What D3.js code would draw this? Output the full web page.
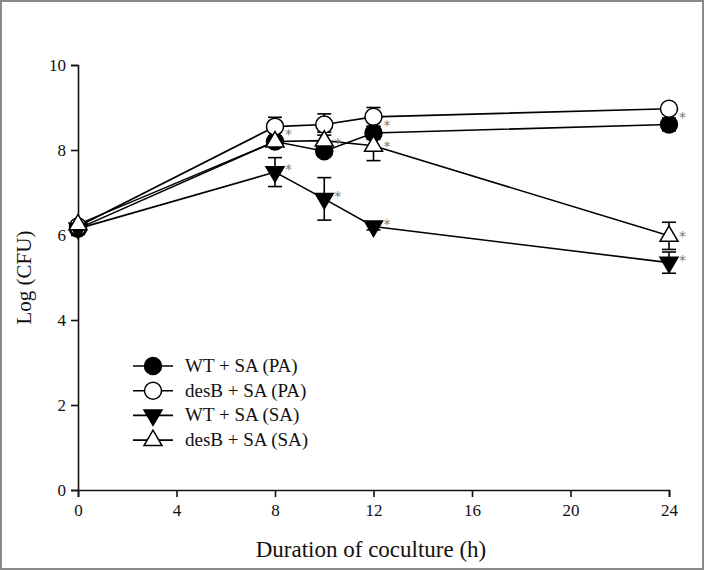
<!DOCTYPE html>
<html>
<head>
<meta charset="utf-8">
<script src="https://cdn.jsdelivr.net/npm/d3@7"></script>
<style>
  body { margin: 0; background: #fff; }
  svg text { font-family: "Liberation Serif", "Times New Roman", serif; fill: #111; }
</style>
</head>
<body>
<div id="chart-area"></div>
<script>
// data
const hours = [0, 8, 10, 12, 24];
const xTicks = [0, 4, 8, 12, 16, 20, 24];
const yTicks = [0, 2, 4, 6, 8, 10];

const seriesNames = ["WT + SA (PA)", "desB + SA (PA)", "WT + SA (SA)", "desB + SA (SA)"];
const seriesSymbols = ["circleFilled", "circleOpen", "triDownFilled", "triUpOpen"];

const wtPA   = [6.15, 8.2, 7.97, 8.4, 8.6];
const desbPA = [6.2, 8.55, 8.6, 8.78, 8.97];
const wtSA   = [6.15, 7.48, 6.85, 6.2, 5.35];
const desbSA = [6.25, 8.2, 8.22, 8.1, 5.98];

const wtPAErr   = [0.05, 0.1, 0.1, 0.15, 0.15];
const desbPAErr = [0.05, 0.22, 0.25, 0.22, 0.08];
const wtSAErr   = [0.05, 0.34, 0.5, 0.08, 0.25];
const desbSAErr = [0.05, 0.12, 0.2, 0.35, 0.32];

// asterisk flags per point
const wtPAStar   = [0, 1, 1, 1, 1];
const desbPAStar = [0, 0, 0, 0, 0];
const wtSAStar   = [0, 1, 1, 1, 1];
const desbSAStar = [0, 0, 0, 1, 1];

const seriesValues = [wtPA, desbPA, wtSA, desbSA];
const seriesErrors = [wtPAErr, desbPAErr, wtSAErr, desbSAErr];
const seriesStars  = [wtPAStar, desbPAStar, wtSAStar, desbSAStar];

/* SVG */
const W = 704, H = 570;
const margin = { left: 78, right: 35, top: 65, bottom: 80 };
const width  = W - margin.left - margin.right;
const height = H - margin.top - margin.bottom;

const svg = d3.select("#chart-area").append("svg")
    .attr("width", W)
    .attr("height", H);

// outer frame
svg.append("rect")
    .attr("x", 1).attr("y", 1)
    .attr("width", W - 2).attr("height", H - 2)
    .attr("fill", "none")
    .attr("stroke", "#8a8a8a")
    .attr("stroke-width", 2);

const g = svg.append("g")
    .attr("transform", `translate(${margin.left}, ${margin.top})`);

/* Scales */
const x = d3.scaleLinear().domain([0, 24]).range([0, width]);
const y = d3.scaleLinear().domain([0, 10]).range([height, 0]);

/* Axis */
const xAxis = g.append("g")
    .attr("transform", `translate(0,${height})`)
    .call(d3.axisBottom(x).tickValues(xTicks).tickSize(7).tickPadding(7));

const yAxis = g.append("g")
    .call(d3.axisLeft(y).tickValues(yTicks).tickSize(7).tickPadding(5));

[xAxis, yAxis].forEach(a => {
    a.attr("font-family", null);
    a.select(".domain").attr("stroke", "#111").attr("stroke-width", 1.6);
    a.selectAll(".tick line").attr("stroke", "#111").attr("stroke-width", 1.6);
    a.selectAll(".tick text")
        .attr("fill", "#111")
        .style("font-size", "17px");
});

// axis titles
svg.append("text")
    .attr("x", 371)
    .attr("y", 557)
    .attr("text-anchor", "middle")
    .style("font-size", "23px")
    .text("Duration of coculture (h)");

svg.append("text")
    .attr("transform", `translate(31, ${margin.top + height / 2}) rotate(-90)`)
    .attr("text-anchor", "middle")
    .style("font-size", "21px")
    .text("Log (CFU)");

/* Markers */
function drawSymbol(sel, kind, cx, cy) {
    if (kind.startsWith("circle")) {
        sel.append("circle")
            .attr("cx", cx).attr("cy", cy).attr("r", 8.5)
            .attr("fill", kind === "circleFilled" ? "#000" : "#fff")
            .attr("stroke", "#000").attr("stroke-width", 1.5);
    } else {
        const s = 9;
        const pts = kind === "triDownFilled"
            ? [[cx - s, cy - s * 0.6], [cx + s, cy - s * 0.6], [cx, cy + s * 1.1]]
            : [[cx - s, cy + s * 0.6], [cx + s, cy + s * 0.6], [cx, cy - s * 1.1]];
        sel.append("path")
            .attr("d", d3.line()(pts) + "Z")
            .attr("fill", kind === "triDownFilled" ? "#000" : "#fff")
            .attr("stroke", "#000").attr("stroke-width", 1.5);
    }
}

const line = d3.line()
    .x((d, i) => x(hours[i]))
    .y(d => y(d));

// lines first
seriesValues.forEach(vals => {
    g.append("path")
        .attr("d", line(vals))
        .attr("fill", "none")
        .attr("stroke", "#000")
        .attr("stroke-width", 1.6);
});

// error bars
seriesValues.forEach((vals, si) => {
    const eg = g.append("g");
    vals.forEach((v, i) => {
        const e = seriesErrors[si][i];
        const cx = x(hours[i]);
        eg.append("line")
            .attr("x1", cx).attr("x2", cx)
            .attr("y1", y(v - e)).attr("y2", y(v + e))
            .attr("stroke", "#000").attr("stroke-width", 1.6);
        [v - e, v + e].forEach(yy => {
            eg.append("line")
                .attr("x1", cx - 7).attr("x2", cx + 7)
                .attr("y1", y(yy)).attr("y2", y(yy))
                .attr("stroke", "#000").attr("stroke-width", 1.6);
        });
    });
});

// markers
seriesValues.forEach((vals, si) => {
    const mg = g.append("g");
    vals.forEach((v, i) => drawSymbol(mg, seriesSymbols[si], x(hours[i]), y(v)));
});

// asterisks (small vertical nudge per series so they don't collide)
const starDy = [-3, 0, 2, 5];
seriesValues.forEach((vals, si) => {
    vals.forEach((v, i) => {
        if (!seriesStars[si][i]) return;
        g.append("text")
            .attr("x", x(hours[i]) + 10)
            .attr("y", y(v) + starDy[si])
            .style("font-size", "14px")
            .style("font-family", "'DejaVu Sans', sans-serif")
            .style("fill", "#777")
            .text("*");
    });
});

/* Legend */
const legend = svg.append("g").attr("transform", "translate(133, 366)");
seriesNames.forEach((name, i) => {
    const row = legend.append("g").attr("transform", `translate(0, ${i * 24.7})`);
    row.append("line")
        .attr("x1", 0).attr("x2", 40)
        .attr("stroke", "#000").attr("stroke-width", 1.6);
    drawSymbol(row, seriesSymbols[i], 20, 0);
    row.append("text")
        .attr("x", 52)
        .attr("y", 6)
        .style("font-size", "19px")
        .text(name);
});
</script>
</body>
</html>
